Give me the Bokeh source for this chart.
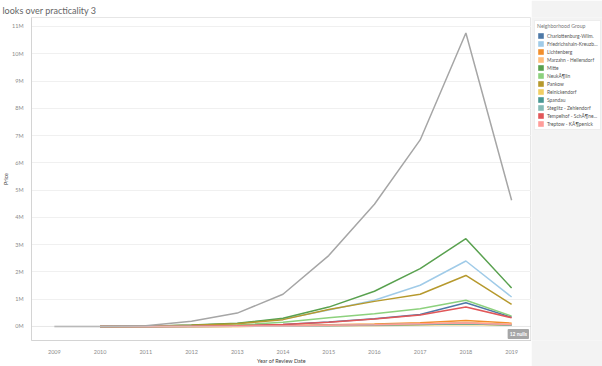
from bokeh.plotting import figure
from bokeh.layouts import row
from bokeh.models import (FixedTicker, Range1d, Legend, LegendItem, Label, Span)
from bokeh.embed import file_html
from bokeh.resources import INLINE

nan = float("nan")

# ---------------- data (prices in millions) ----------------
years = [2009, 2010, 2011, 2012, 2013, 2014, 2015, 2016, 2017, 2018, 2019]

groups = ["Charlottenburg-Wilm.", "Friedrichshain-Kreuzb\u2026", "Lichtenberg",
          "Marzahn - Hellersdorf", "Mitte", "Neuk\u00c3\u00b6lln", "Pankow",
          "Reinickendorf", "Spandau", "Steglitz - Zehlendorf",
          "Tempelhof - Sch\u00c3\u00b6ne\u2026", "Treptow - K\u00c3\u00b6penick"]

colors = ["#4e79a7", "#a0cbe8", "#f28e2b", "#ffbe7d", "#59a14f", "#8cd17d",
          "#b6992d", "#f1ce63", "#499894", "#86bcb6", "#e15759", "#ff9d9a"]

charlottenburg = [nan, 0.00, 0.00, 0.01, 0.03, 0.07, 0.16, 0.28, 0.44, 0.87, 0.34]
friedrichshain = [nan, 0.00, 0.01, 0.04, 0.11, 0.27, 0.60, 0.96, 1.51, 2.40, 1.08]
lichtenberg    = [nan, 0.00, 0.00, 0.00, 0.01, 0.03, 0.06, 0.09, 0.14, 0.22, 0.12]
marzahn        = [nan, 0.00, 0.00, 0.00, 0.00, 0.01, 0.03, 0.05, 0.08, 0.15, 0.08]
mitte          = [nan, 0.00, 0.01, 0.05, 0.12, 0.30, 0.71, 1.29, 2.12, 3.22, 1.41]
neukoelln      = [nan, 0.00, 0.00, 0.02, 0.05, 0.15, 0.32, 0.47, 0.65, 0.96, 0.38]
pankow         = [nan, 0.00, 0.01, 0.04, 0.10, 0.25, 0.62, 0.92, 1.18, 1.87, 0.81]
reinickendorf  = [nan, 0.00, 0.00, 0.00, 0.00, 0.01, 0.02, 0.03, 0.05, 0.07, 0.04]
spandau        = [nan, 0.00, 0.00, 0.00, 0.01, 0.02, 0.03, 0.05, 0.07, 0.10, 0.05]
steglitz       = [nan, 0.00, 0.00, 0.01, 0.01, 0.02, 0.04, 0.06, 0.09, 0.12, 0.06]
tempelhof      = [nan, 0.00, 0.00, 0.01, 0.03, 0.07, 0.15, 0.27, 0.42, 0.71, 0.32]
treptow        = [nan, 0.00, 0.00, 0.00, 0.01, 0.02, 0.04, 0.06, 0.10, 0.13, 0.07]

other_gray     = [0.00, 0.00, 0.03, 0.19, 0.49, 1.18, 2.60, 4.48, 6.84, 10.76, 4.63]

series = [charlottenburg, friedrichshain, lichtenberg, marzahn, mitte, neukoelln,
          pankow, reinickendorf, spandau, steglitz, tempelhof, treptow]

y_ticks = [0, 1, 2, 3, 4, 5, 6, 7, 8, 9, 10, 11]
y_tick_labels = ["0M", "1M", "2M", "3M", "4M", "5M", "6M", "7M", "8M", "9M", "10M", "11M"]
x_tick_labels = ["2009", "2010", "2011", "2012", "2013", "2014", "2015", "2016", "2017", "2018", "2019"]

title_text = "looks over practicality 3"
legend_title = "Neighborhood Group"
null_text = "12 nulls"

FONT = "Lato"

# ---------------- main chart ----------------
W1, W2, H = 531, 71, 366

p = figure(width=W1, height=H, output_backend="svg", toolbar_location=None,
           title=title_text,
           x_range=Range1d(2008.5, 2019.435), y_range=Range1d(-0.515, 11.33),
           min_border_left=0, min_border_right=0, min_border_top=0,
           min_border_bottom=0)
p.outline_line_color = "#e6e6e6"
p.background_fill_color = "white"
p.border_fill_color = "white"

p.title.text_font = FONT
p.title.text_font_size = "9px"
p.title.text_font_style = "normal"
p.title.text_color = "#666666"
p.title.offset = -29
p.title.standoff = 4

# axes
xa = p.xaxis[0]
xa.ticker = FixedTicker(ticks=years)
xa.major_label_overrides = {y: s for y, s in zip(years, x_tick_labels)}
xa.major_label_text_font = FONT
xa.major_label_text_font_size = "5.5px"
xa.major_label_text_color = "#8c8c8c"
xa.major_tick_line_color = None
xa.minor_tick_line_color = None
xa.axis_line_color = "#d4d4d4"
xa.major_label_standoff = 3
xa.axis_label = "Year of Review Date"
xa.axis_label_text_font = FONT
xa.axis_label_text_font_size = "5.5px"
xa.axis_label_text_font_style = "normal"
xa.axis_label_text_color = "#444444"
xa.axis_label_standoff = 1

ya = p.yaxis[0]
ya.ticker = FixedTicker(ticks=y_ticks)
ya.major_label_overrides = {t: s for t, s in zip(y_ticks, y_tick_labels)}
ya.major_label_text_font = FONT
ya.major_label_text_font_size = "5.5px"
ya.major_label_text_color = "#8c8c8c"
ya.major_tick_line_color = None
ya.minor_tick_line_color = None
ya.axis_line_color = "#d4d4d4"
ya.major_label_standoff = 2
ya.axis_label = "Price"
ya.axis_label_text_font = FONT
ya.axis_label_text_font_size = "5.5px"
ya.axis_label_text_font_style = "normal"
ya.axis_label_text_color = "#444444"
ya.axis_label_standoff = 0

p.xgrid.visible = False
p.ygrid.ticker = FixedTicker(ticks=y_ticks[1:])
p.ygrid.grid_line_color = "#f0f0f0"
p.ygrid.grid_line_width = 1

p.add_layout(Span(location=0, dimension="width", line_color="#cfcfcf",
                  line_width=1, line_dash="1 1"))

for vals, c in zip(series, colors):
    p.line(years, vals, line_color=c, line_width=1.5)
p.line(years, other_gray, line_color="#a6a6a6", line_width=1.5)

p.add_layout(Label(x=2019.38, y=-0.46, text=null_text, text_font=FONT,
                   text_font_size="5px", text_font_style="bold",
                   text_color="white", background_fill_color="#a6a6a6",
                   text_baseline="bottom", text_align="right",
                   padding=2, border_radius=1))

# ---------------- legend pane ----------------
p2 = figure(width=W2, height=H, output_backend="svg", toolbar_location=None,
            x_range=Range1d(2008, 2020), y_range=Range1d(0, 12),
            x_axis_location=None, y_axis_location=None,
            min_border=0, min_border_left=0, min_border_right=0,
            min_border_top=0, min_border_bottom=0)
p2.grid.visible = False
p2.outline_line_color = None
p2.background_fill_color = "#f3f3f3"
p2.border_fill_color = "#f3f3f3"

items = []
for name, vals, c in zip(groups, series, colors):
    r = p2.rect(years, vals, width=0.5, height=0.5, fill_color=c,
                line_color=None, visible=False)
    items.append(LegendItem(label=name, renderers=[r]))

legend = Legend(items=items, location="top_left", title=legend_title,
                title_text_font=FONT, title_text_font_size="5.2px",
                title_text_font_style="normal", title_text_color="#777777",
                title_standoff=3,
                label_text_font=FONT, label_text_font_size="4.9px",
                label_text_color="#555555", label_height=6, label_standoff=3,
                glyph_width=7, glyph_height=7, spacing=1, padding=2, margin=3,
                background_fill_color="white", background_fill_alpha=1.0,
                border_line_color="#dcdcdc", border_line_width=1)
p2.add_layout(legend)

layout = row(p, p2, spacing=0)

open("out.html", "w").write(file_html(layout, INLINE))
